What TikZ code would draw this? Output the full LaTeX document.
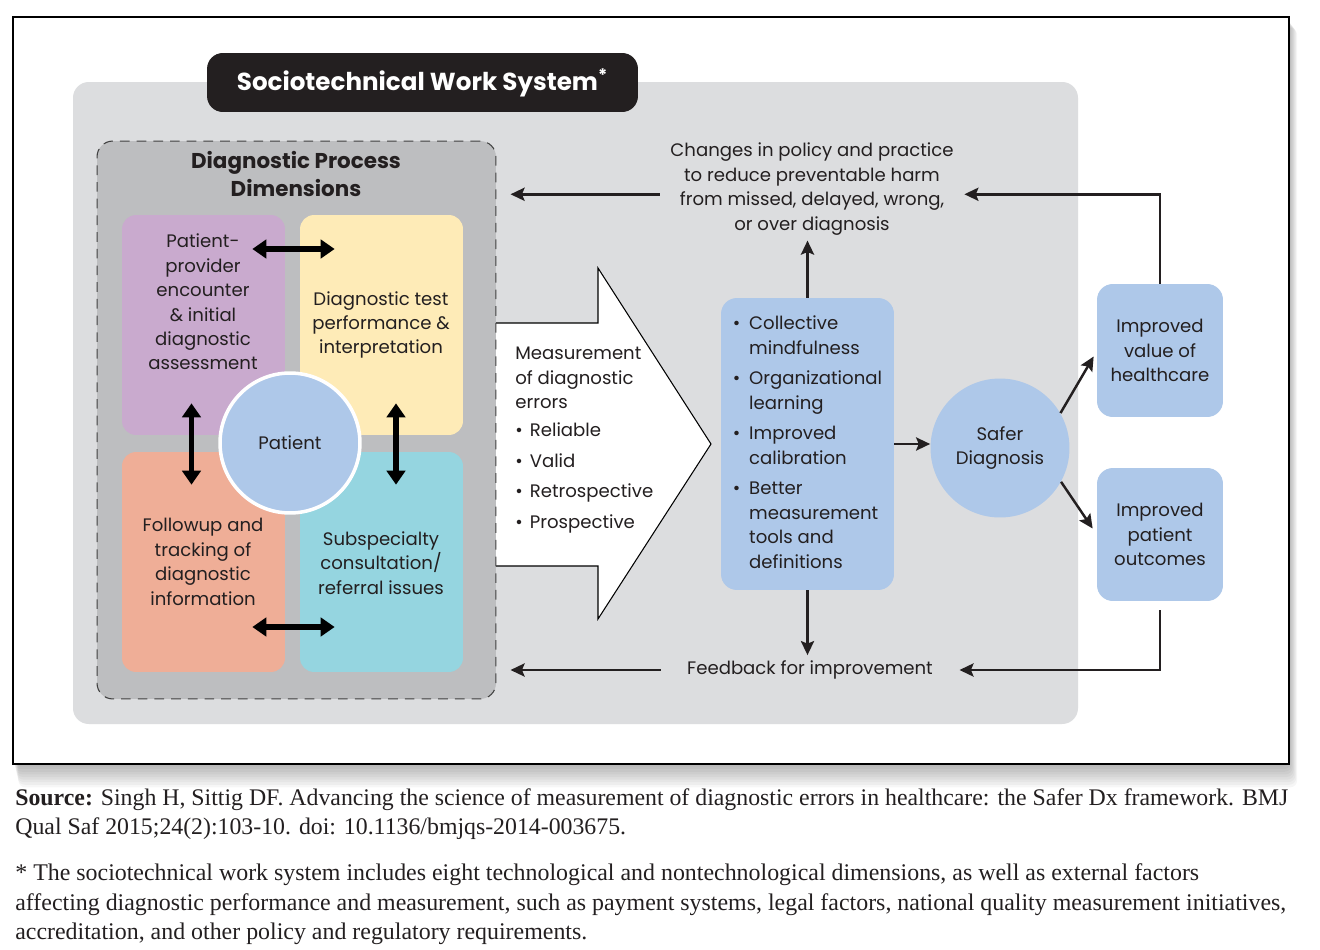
\documentclass[tikz,border=0pt]{standalone}
\usepackage{fontspec}
\setmainfont{Liberation Serif}
\newfontfamily\futfont{Poppins}
\usepackage{xcolor}
\usepackage{tikz}
\usetikzlibrary{arrows.meta,positioning,calc}
\definecolor{sdgray}{RGB}{220,221,223}
\definecolor{sddark}{RGB}{189,190,192}
\definecolor{sdblack}{RGB}{35,31,32}
\definecolor{sdpurple}{RGB}{201,170,206}
\definecolor{sdyellow}{RGB}{254,235,183}
\definecolor{sdsalmon}{RGB}{239,174,151}
\definecolor{sdcyan}{RGB}{149,213,224}
\definecolor{sdblue}{RGB}{174,200,233}

\begin{document}
\begin{tikzpicture}[x=0.02cm, y=-0.02cm, font=\futfont\fontsize{10.3}{13.9}\selectfont, text=sdblack, >={Stealth[length=8pt,width=7.5pt,inset=1.5pt]}]
  \tikzset{dimbox/.style={rounded corners=8pt, minimum width=3.26cm, minimum height=4.4cm},
    dimtext/.style={align=center, inner sep=1pt},
    fat/.style={line width=3.4pt, {Triangle[length=8pt,width=10.5pt]}-{Triangle[length=8pt,width=10.5pt]}},
    flow/.style={->, line width=1.4pt, draw=sdblack},
    bluebox/.style={fill=sdblue, rounded corners=9pt, align=center},
    note/.style={align=center, inner xsep=6pt, inner ysep=3pt},
    heading/.style={font=\futfont\bfseries\fontsize{12.2}{15.5}\selectfont, align=center}}
  \useasboundingbox (0,0) rectangle (1320,950);
  \foreach \s in {1,...,9}
    \fill[black, opacity=0.035, rounded corners=4pt] (13+\s*0.6,17+\s*1.2) rectangle (1289+\s*0.9,764+\s*2.6);
  \draw[fill=white, line width=1.3pt] (13,17) rectangle (1289,764);
  \fill[sdgray, rounded corners=9pt] (73,82) rectangle (1078,724);
  \node[fill=sdblack, text=white, rounded corners=9pt, minimum width=8.62cm, minimum height=1.18cm, font=\futfont\bfseries\fontsize{14}{16}\selectfont] (title) at (422.5,82.5) {Sociotechnical Work System\textsuperscript{*}};

  \fill[white] (496,323) -- (598,323) -- (598,268) -- (711,444) -- (598,619) -- (598,566) -- (496,566) -- cycle;
  \draw[line width=0.6pt] (496,323) -- (598,323) -- (598,268) -- (711,444) -- (598,619) -- (598,566) -- (496,566);
  \node[anchor=north west, align=left, inner sep=0pt] (meas) at (515,347) {Measurement\\of diagnostic\\errors\\[2pt]\textbullet\hspace{4pt}Reliable\\[3.5pt]\textbullet\hspace{4pt}Valid\\[3.5pt]\textbullet\hspace{4pt}Retrospective\\[3.5pt]\textbullet\hspace{4pt}Prospective};

  \node[draw=black!75, dashed, dash pattern=on 5.5pt off 4pt, line width=0.6pt, fill=sddark, rounded corners=9pt, minimum width=7.98cm, minimum height=11.16cm] (dims) at (296.5,420) {};
  \node[heading] (dimhead) at (296,174) {Diagnostic Process\\Dimensions};
  \node[dimbox, fill=sdpurple] (pp) at (203.5,325) {};
  \node[dimbox, fill=sdyellow] (dt) at (381.5,325) {};
  \node[dimbox, fill=sdsalmon] (fu) at (203.5,562) {};
  \node[dimbox, fill=sdcyan] (sc) at (381.5,562) {};
  \node[dimtext] (pptext) at (203,302) {Patient-\\provider\\encounter\\\&~initial\\diagnostic\\assessment};
  \node[dimtext] (dttext) at (381,325) {Diagnostic test\\performance \&\\interpretation};
  \node[dimtext] (futext) at (203,562) {Followup and\\tracking of\\diagnostic\\information};
  \node[dimtext] (sctext) at (381,563) {Subspecialty\\consultation/\\referral issues};
  \node[circle, fill=sdblue, draw=white, line width=2pt, minimum size=2.8cm] (patient) at (290,443) {Patient};
  \draw[fat] ($(pp.east)+(-33,-76)$) -- ($(dt.west)+(35,-76)$);
  \draw[fat] ($(pp.south)+(-12,-32)$) -- ($(fu.north)+(-12,33)$);
  \draw[fat] ($(dt.south)+(14.5,-32)$) -- ($(sc.north)+(14.5,33)$);
  \draw[fat] ($(fu.east)+(-33,65)$) -- ($(sc.west)+(35,65)$);

  \node[bluebox, minimum width=3.46cm, minimum height=5.84cm] (learn) at (807.5,444) {\begin{tabular}{@{}l@{\hspace{5pt}}l@{}}
    \textbullet & Collective\\ & mindfulness\\[3.5pt]
    \textbullet & Organizational\\ & learning\\[3.5pt]
    \textbullet & Improved\\ & calibration\\[3.5pt]
    \textbullet & Better\\ & measurement\\ & tools and\\ & definitions
  \end{tabular}};
  \node[circle, fill=sdblue, minimum size=2.78cm, align=center] (safer) at (1000,448) {Safer\\Diagnosis};
  \node[bluebox, minimum width=2.52cm, minimum height=2.66cm] (value) at (1160,350.5) {Improved\\value of\\healthcare};
  \node[bluebox, minimum width=2.52cm, minimum height=2.66cm] (outcome) at (1160,534.5) {Improved\\patient\\outcomes};
  \node[note] (changes) at (812,189) {Changes in policy and practice\\to reduce preventable harm\\from missed, delayed, wrong,\\or over diagnosis};
  \node[note, inner xsep=15pt] (feedback) at (810,670) {Feedback for improvement};

  \draw[flow] (learn.east) -- (learn.east -| safer.west);
  \draw[flow] (safer.30) -- ($(value.west)+(-3,6)$);
  \draw[flow] (safer.-29) -- ($(outcome.west)+(-4,-6)$);
  \draw[flow] (learn.north) -- (learn.north |- changes.south);
  \draw[flow] (learn.south) -- (learn.south |- feedback.north);
  \draw[flow, shorten >=8pt] ([yshift=-3pt]changes.west) -- ([yshift=-3pt]changes.west -| dims.east);
  \draw[flow] (value.north) |- ([yshift=-3pt]changes.east);
  \draw[flow, shorten <=5pt] (outcome.south) |- (feedback.east);
  \draw[flow, shorten >=8pt] (feedback.west) -- (feedback.west -| dims.east);

  \node[anchor=north west, align=left, inner sep=0pt, font=\rmfamily\fontsize{13.55}{16.5}\selectfont] (source) at (15,788) {\textbf{Source:} Singh H, Sittig DF. Advancing the science of measurement of diagnostic errors in healthcare: the Safer Dx framework. BMJ\\Qual Saf 2015;24(2):103-10. doi: 10.1136/bmjqs-2014-003675.};
  \node[anchor=north west, align=left, inner sep=0pt, font=\rmfamily\fontsize{13.6}{17}\selectfont] (footnote) at (15,863) {* The sociotechnical work system includes eight technological and nontechnological dimensions, as well as external factors\\affecting diagnostic performance and measurement, such as payment systems, legal factors, national quality measurement initiatives,\\accreditation, and other policy and regulatory requirements.};
\end{tikzpicture}
\end{document}
